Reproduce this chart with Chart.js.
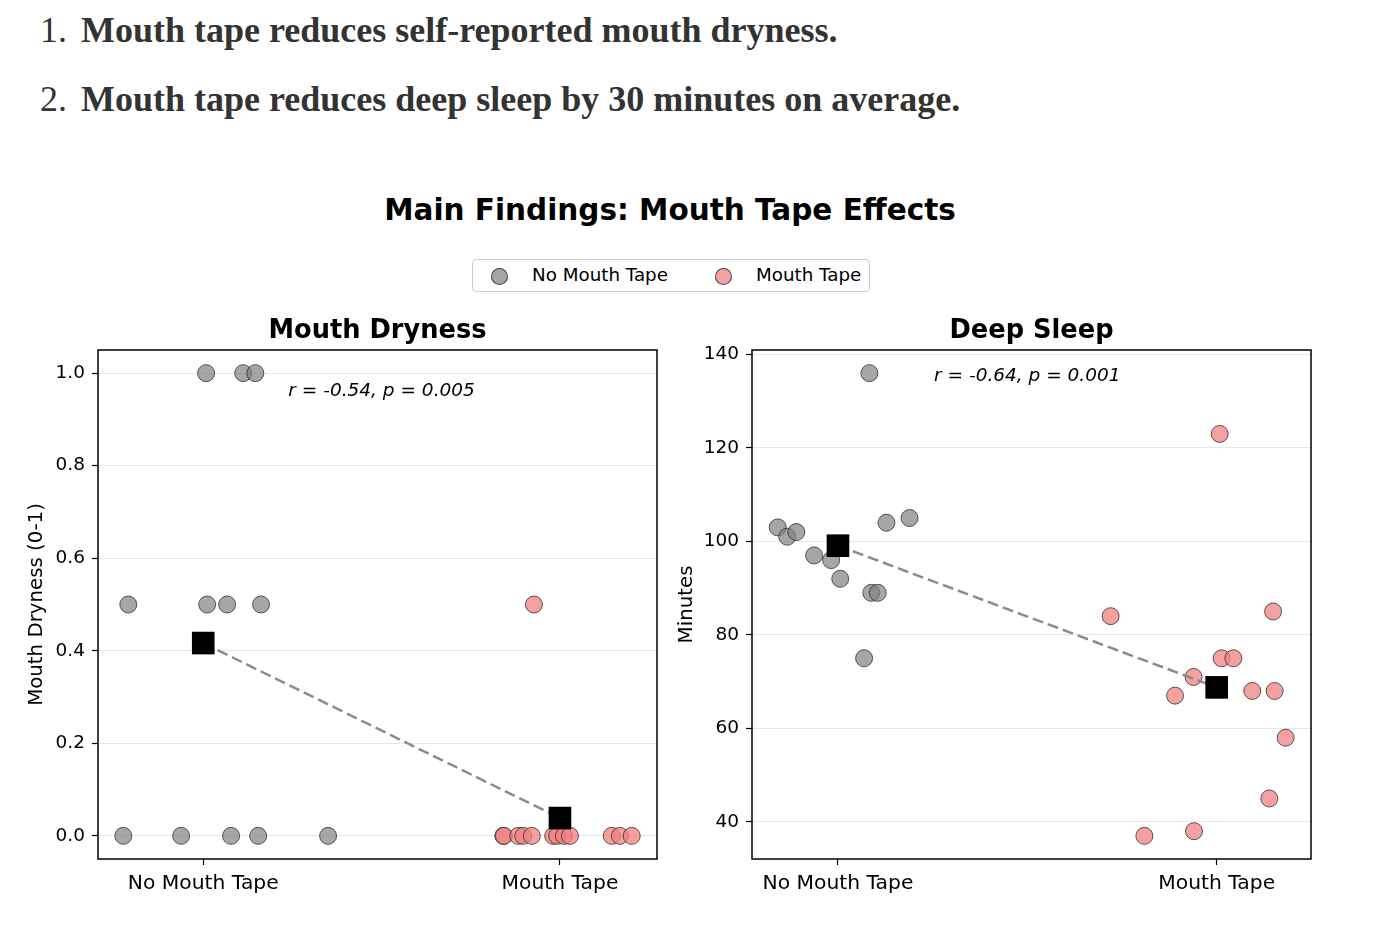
<!DOCTYPE html>
<html>
<head>
<meta charset="utf-8">
<script src="https://cdn.jsdelivr.net/npm/chart.js@4.4.1/dist/chart.umd.min.js"></script>
<style>
  html, body { margin: 0; padding: 0; background: #fff; }
  #page { position: relative; width: 1380px; height: 940px; overflow: hidden; font-family: "DejaVu Sans", sans-serif; }
  .item { position: absolute; left: 40px; font-family: "Liberation Serif", serif; font-size: 36px; color: #333; white-space: nowrap; }
  .item .num { position: absolute; left: 0; font-weight: normal; }
  .item .txt { position: absolute; left: 41px; font-weight: bold; }
  #suptitle { position: absolute; left: 0; width: 1340px; top: 193px; text-align: center; font-weight: bold; font-size: 29.5px; color: #000; }
  #legend { position: absolute; left: 472px; top: 259px; width: 396px; height: 31px; border: 1px solid #ccc; border-radius: 4px; font-size: 18.3px; color: #000; }
  #legend .dot { position: absolute; top: 8px; width: 15px; height: 15px; border-radius: 50%; border: 1px solid rgba(40,40,40,0.8); }
  #legend .lab { position: absolute; top: 4px; white-space: nowrap; }
  .wrap { position: absolute; top: 300px; height: 620px; }
</style>
</head>
<body>
<div id="page">
  <div class="item" style="top:9px"><span class="num">1.</span><span class="txt">Mouth tape reduces self-reported mouth dryness.</span></div>
  <div class="item" style="top:78px"><span class="num">2.</span><span class="txt">Mouth tape reduces deep sleep by 30 minutes on average.</span></div>
  <div id="suptitle">Main Findings: Mouth Tape Effects</div>
  <div id="legend">
    <span class="dot" style="left:18px;background:rgba(128,128,128,0.7)"></span><span class="lab" style="left:59px">No Mouth Tape</span>
    <span class="dot" style="left:242px;background:rgba(240,128,128,0.75)"></span><span class="lab" style="left:283px">Mouth Tape</span>
  </div>
  <div class="wrap" style="left:0;width:690px"><canvas id="dryChart"></canvas></div>
  <div class="wrap" style="left:650px;width:730px"><canvas id="sleepChart"></canvas></div>
</div>
<script>
// groups on the x axis (0 = no tape, 1 = tape)
const groups = ['No Mouth Tape', 'Mouth Tape'];

// mouth dryness, jittered x positions and values
const dryNoTapeX = [0.008, 0.112, 0.146, -0.21, 0.011, 0.067, 0.162, -0.224, -0.062, 0.078, 0.154, 0.35];
const dryNoTapeY = [1.0, 1.0, 1.0, 0.5, 0.5, 0.5, 0.5, 0, 0, 0, 0, 0];
const dryTapeX = [0.927, 0.841, 0.843, 0.883, 0.897, 0.921, 0.981, 0.992, 1.011, 1.028, 1.145, 1.168, 1.201];
const dryTapeY = [0.5, 0, 0, 0, 0, 0, 0, 0, 0, 0, 0, 0, 0];
const dryTicks = [0, 0.2, 0.4, 0.6, 0.8, 1.0];

// deep sleep minutes
const sleepNoTapeX = [0.083, -0.159, -0.134, -0.11, -0.063, -0.018, 0.006, 0.088, 0.105, 0.128, 0.189, 0.069];
const sleepNoTapeY = [136, 103, 101, 102, 97, 96, 92, 89, 89, 104, 105, 75];
const sleepTapeX = [1.008, 0.72, 1.149, 1.013, 1.044, 0.939, 0.89, 1.094, 1.153, 1.182, 1.139, 0.809, 0.94];
const sleepTapeY = [123, 84, 85, 75, 75, 71, 67, 68, 68, 58, 45, 37, 38];
const sleepTicks = [40, 60, 80, 100, 120, 140];

Chart.defaults.font.family = '"DejaVu Sans", sans-serif';
Chart.defaults.color = '#000';

const mean = (arr) => arr.reduce((a, b) => a + b, 0) / arr.length;
const pts = (xs, ys) => xs.map((x, i) => ({ x: x, y: ys[i] }));

const frame = {
  id: 'frame',
  afterDraw(chart, args, opts) {
    const { ctx, chartArea: a } = chart;
    ctx.save();
    ctx.strokeStyle = '#000';
    ctx.lineWidth = 1.5;
    ctx.strokeRect(a.left, a.top, a.right - a.left, a.bottom - a.top);
    ctx.fillStyle = '#000';
    ctx.textAlign = 'center';
    ctx.textBaseline = 'middle';
    ctx.font = 'bold 25.7px "DejaVu Sans"';
    ctx.fillText(opts.title, (a.left + a.right) / 2, a.top - 19);
    ctx.font = 'italic 18.5px "DejaVu Sans"';
    ctx.fillText(opts.note, chart.scales.x.getPixelForValue(opts.noteX), chart.scales.y.getPixelForValue(opts.noteY));
    ctx.restore();
  }
};

function makeChart(id, o) {
  const data = {
    datasets: [
      {
        label: 'Mean',
        data: [{ x: 0, y: mean(o.noY) }, { x: 1, y: mean(o.tapeY) }],
        showLine: true,
        borderColor: '#8c8c8c',
        borderWidth: 2.5,
        borderDash: [11, 5],
        pointStyle: 'rect',
        pointRadius: 16,
        pointBackgroundColor: '#000',
        pointBorderColor: '#000',
        pointBorderWidth: 0,
      },
      {
        label: groups[1],
        data: pts(o.tapeX, o.tapeY),
        backgroundColor: 'rgba(240,128,128,0.75)',
        borderColor: 'rgba(40,40,40,0.75)',
        borderWidth: 1,
        pointRadius: 8.5,
      },
      {
        label: groups[0],
        data: pts(o.noX, o.noY),
        backgroundColor: 'rgba(128,128,128,0.7)',
        borderColor: 'rgba(40,40,40,0.75)',
        borderWidth: 1,
        pointRadius: 8.5,
      },
    ],
  };
  return new Chart(document.getElementById(id), {
    type: 'scatter',
    data,
    plugins: [frame],
    options: {
      responsive: true,
      maintainAspectRatio: false,
      animation: false,
      events: [],
      layout: { padding: { top: 50, right: o.padRight, bottom: 0, left: 0 } },
      plugins: {
        legend: { display: false },
        tooltip: { enabled: false },
        frame: { title: o.title, note: o.note, noteX: 0.5, noteY: o.noteY },
      },
      scales: {
        x: {
          type: 'linear',
          min: o.xMin,
          max: o.xMax,
          afterBuildTicks: (s) => { s.ticks = [{ value: 0 }, { value: 1 }]; },
          afterFit: (s) => { s.height = 61; },
          grid: { drawOnChartArea: false, drawTicks: true, tickLength: 6, tickColor: '#000', tickWidth: 1.2 },
          border: { display: false },
          ticks: { padding: 7, font: { size: 20.3 }, callback: (v) => groups[v] },
        },
        y: {
          type: 'linear',
          min: o.yMin,
          max: o.yMax,
          afterBuildTicks: (s) => { s.ticks = o.ticks.map((v) => ({ value: v })); },
          afterFit: (s) => { s.width = o.yWidth; },
          grid: { color: '#e6e6e6', lineWidth: 1, drawTicks: true, tickLength: 6, tickColor: '#000', tickWidth: 1.2 },
          border: { display: false },
          ticks: { padding: 7, font: { size: 18.5 }, callback: o.fmt },
          title: { display: true, text: o.yTitle, font: { size: 19.8 }, padding: { top: 25, bottom: 0 } },
        },
      },
    },
  });
}

makeChart('dryChart', {
  noX: dryNoTapeX, noY: dryNoTapeY, tapeX: dryTapeX, tapeY: dryTapeY, ticks: dryTicks,
  xMin: -0.295, xMax: 1.272, yMin: -0.05, yMax: 1.05,
  yWidth: 98, padRight: 33,
  title: 'Mouth Dryness', note: 'r = -0.54, p = 0.005', noteY: 0.96,
  yTitle: 'Mouth Dryness (0-1)', fmt: (v) => v.toFixed(1),
});

makeChart('sleepChart', {
  noX: sleepNoTapeX, noY: sleepNoTapeY, tapeX: sleepTapeX, tapeY: sleepTapeY, ticks: sleepTicks,
  xMin: -0.227, xMax: 1.249, yMin: 32.05, yMax: 140.95,
  yWidth: 102, padRight: 69,
  title: 'Deep Sleep', note: 'r = -0.64, p = 0.001', noteY: 135.3,
  yTitle: 'Minutes', fmt: (v) => String(v),
});
</script>
</body>
</html>
